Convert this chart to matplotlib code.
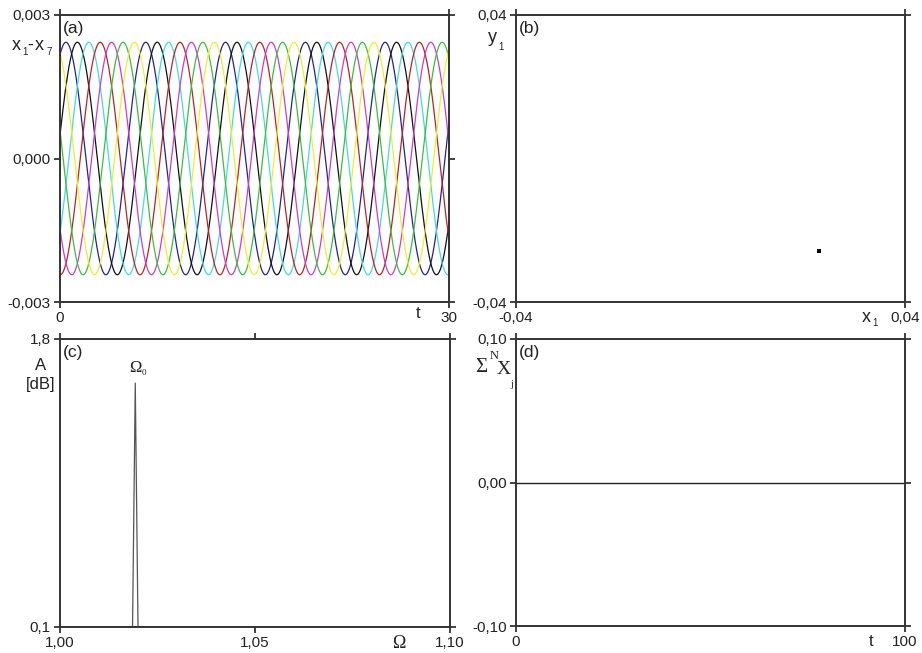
import numpy as np
import matplotlib
matplotlib.use("Agg")
import matplotlib.pyplot as plt
from matplotlib.ticker import FixedLocator, FixedFormatter

plt.rcParams['font.family'] = ['Liberation Sans', 'DejaVu Sans']

# ---------------- data ----------------
# (a) seven oscillators x1..x7: common amplitude/frequency, individual peak times
osc_colors = ['#22229a', '#111111', '#40dce0', '#b82424', '#cc3ccc', '#3cbe3c', '#eeee30']
osc_peak_times = [0.46, 1.34, 2.22, 3.10, 3.98, 4.86, 5.74]
osc_amplitude = 0.00243
osc_omega = 1.021
t_a_range = [0, 30]

# (b) phase portrait: a single point
x1_point = [0.0224]
y1_point = [-0.0258]

# (c) spectrum: single peak at Omega_0
spec_omega = [1.0000, 1.0186, 1.0193, 1.0200, 1.1000]
spec_amp = [0.1, 0.1, 1.54, 0.1, 0.1]

# (d) sum of all x_j
sum_t = [0, 100]
sum_x = [0.0, 0.0]

# ---------------- figure ----------------
W, H = 922, 653
fig = plt.figure(figsize=(W / 100, H / 100), dpi=100)

def box(l, r, t, b):
    return [l / W, 1 - b / H, (r - l) / W, (b - t) / H]

SP = '#333333'
FS = 11

def style(ax, xt, xl, yt, yl, xlim, ylim):
    ax.set_xlim(*xlim)
    ax.set_ylim(*ylim)
    ax.xaxis.set_major_locator(FixedLocator(xt))
    ax.xaxis.set_major_formatter(FixedFormatter(xl))
    ax.yaxis.set_major_locator(FixedLocator(yt))
    ax.yaxis.set_major_formatter(FixedFormatter(yl))
    ax.tick_params(direction='out', length=4.5, width=1.3, color=SP,
                   top=True, right=True, labelsize=FS, labelcolor='#222222', pad=2)
    for s in ax.spines.values():
        s.set_color(SP)
        s.set_linewidth(1.4)

def ftext(x, y, s, size=FS, ha='center', va='center', **kw):
    fig.text(x / W, 1 - y / H, s, fontsize=size, ha=ha, va=va, color='#222222', **kw)

SERIF = ['Liberation Serif', 'DejaVu Serif']

# (a)
axa = fig.add_axes(box(60, 449, 15, 302))
t = np.linspace(t_a_range[0], t_a_range[1], 3000)
for c, tp in zip(osc_colors, osc_peak_times):
    axa.plot(t, osc_amplitude * np.cos(osc_omega * (t - tp)), color=c, lw=0.9)
style(axa, [0, 30], ['0', '30'], [-0.003, 0, 0.003], ['-0,003', '0,000', '0,003'],
      (0, 30), (-0.003, 0.003))
ftext(63, 28, '(a)', size=12.5, ha='left')
ftext(12, 45, 'x', size=13, ha='left')
ftext(22, 52, '1', size=7, ha='left')
ftext(27, 45, '-', size=13, ha='left')
ftext(35, 45, 'x', size=13, ha='left')
ftext(46, 52, '7', size=7, ha='left')
ftext(418, 313, 't', size=12)

# (b)
axb = fig.add_axes(box(516, 905, 15, 302))
axb.plot(x1_point, y1_point, 's', color='black', ms=2.4, mew=0)
style(axb, [-0.04, 0.04], ['-0,04', '0,04'], [-0.04, 0.04], ['-0,04', '0,04'],
      (-0.04, 0.04), (-0.04, 0.04))
ftext(519, 28, '(b)', size=12.5, ha='left')
ftext(488, 38, 'y', size=13, ha='left')
ftext(498, 47, '1', size=7, ha='left')
ftext(862, 317, 'x', size=13, ha='left')
ftext(872, 323, '1', size=7, ha='left')

# (c)
axc = fig.add_axes(box(60, 450, 339, 627))
axc.plot(spec_omega, spec_amp, color='#555555', lw=0.9)
style(axc, [1.00, 1.05, 1.10], ['1,00', '1,05', '1,10'], [0.1, 1.8], ['0,1', '1,8'],
      (1.00, 1.10), (0.1, 1.8))
ftext(63, 353, '(c)', size=12.5, ha='left')
ftext(41, 366, 'A', size=12)
ftext(41, 384, '[dB]', size=12)
ftext(129, 368, 'Ω', size=12, family=SERIF, ha='left')
ftext(142, 373, '0', size=6.5, family=SERIF, ha='left')
ftext(399, 643, 'Ω', size=13, family=SERIF)

# (d)
axd = fig.add_axes(box(516, 905, 339, 626))
axd.plot(sum_t, sum_x, color='#222222', lw=1.0)
style(axd, [0, 100], ['0', '100'], [-0.10, 0.0, 0.10], ['-0,10', '0,00', '0,10'],
      (0, 100), (-0.10, 0.10))
ftext(519, 352, '(d)', size=12.5, ha='left')
ftext(475, 368, 'Σ', size=15, family=SERIF, ha='left')
ftext(490, 356, 'N', size=9, family=SERIF, ha='left')
ftext(497, 369, 'X', size=14, family=SERIF, ha='left')
ftext(510, 385, 'j', size=8, family=SERIF, ha='left')
ftext(871, 642, 't', size=12)

fig.savefig('out.png', dpi=100)
